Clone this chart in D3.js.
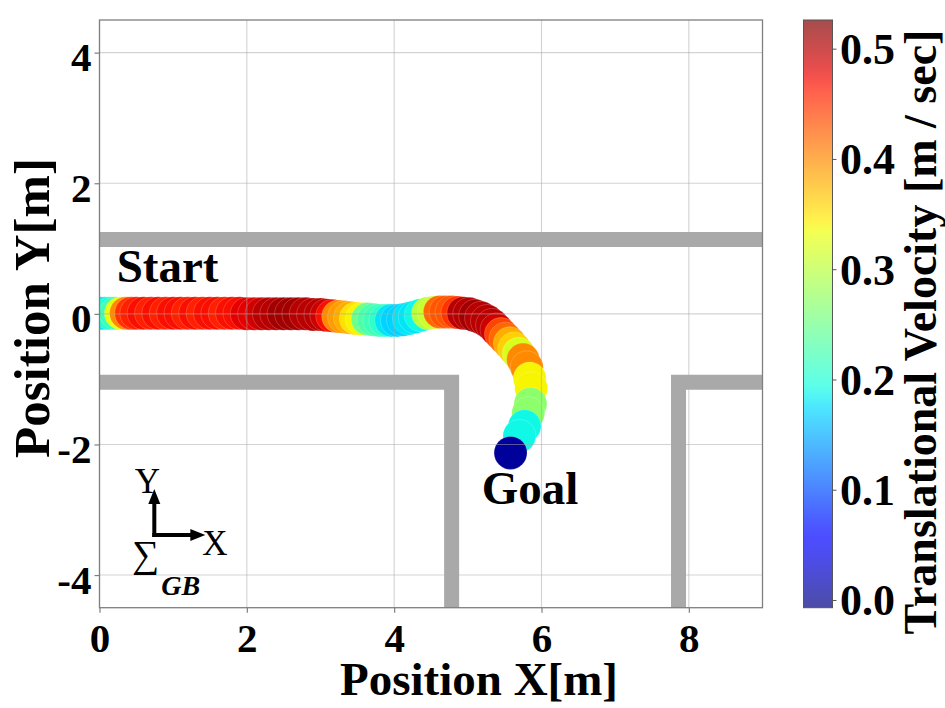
<!DOCTYPE html>
<html><head><meta charset="utf-8">
<script src="https://cdn.jsdelivr.net/npm/d3@7"></script>
<style>body{margin:0;background:#fff}svg{display:block}</style>
</head><body>
<svg id="c" width="945" height="708"></svg>
<script>
// ---------------- data ----------------
const posX = [0.00,0.07,0.14,0.22,0.29,0.36,0.43,0.50,0.60,0.70,0.80,0.90,1.00,1.10,1.20,1.30,1.40,1.50,1.60,1.70,1.80,1.90,2.00,
  2.10,2.20,2.30,2.40,2.50,2.60,2.70,2.80,2.90,3.00,3.08,3.16,3.24,3.32,3.40,3.48,3.56,3.64,3.72,3.80,
  3.88,3.96,4.04,4.12,4.20,4.28,4.36,4.46,4.54,4.62,4.70,4.78,4.86,4.94,5.02,5.10,5.18,5.26,5.33,5.39,
  5.45,5.51,5.57,5.63,5.69,5.75,5.80,5.84,5.86,5.85,5.82,5.77,5.70,5.58];
const posY = [0.01,0.01,0.01,0.01,0.01,0.01,0.01,0.01,0.01,0.01,0.01,0.01,0.01,0.01,0.01,0.01,0.01,0.01,0.01,0.01,0.01,0.01,0.00,
  0.00,0.00,0.00,0.00,0.00,0.00,0.00,0.00,-0.01,-0.01,-0.02,-0.03,-0.04,-0.05,-0.06,-0.07,-0.08,-0.08,-0.09,-0.10,
  -0.10,-0.10,-0.10,-0.09,-0.07,-0.05,-0.02,0.01,0.02,0.03,0.03,0.03,0.02,0.01,0.00,-0.03,-0.06,-0.11,-0.17,-0.24,
  -0.31,-0.38,-0.45,-0.53,-0.61,-0.70,-0.82,-0.99,-1.14,-1.38,-1.52,-1.72,-1.87,-2.13];
const speed = [0.16,0.18,0.20,0.22,0.33,0.40,0.45,0.46,0.47,0.46,0.47,0.46,0.47,0.47,0.46,0.47,0.46,0.47,0.47,0.46,0.47,0.47,0.48,
  0.48,0.49,0.50,0.50,0.51,0.51,0.51,0.50,0.50,0.50,0.49,0.47,0.40,0.39,0.38,0.35,0.34,0.25,0.23,0.22,
  0.21,0.18,0.17,0.17,0.18,0.18,0.19,0.30,0.31,0.42,0.43,0.43,0.45,0.50,0.50,0.51,0.50,0.50,0.50,0.49,
  0.44,0.42,0.38,0.36,0.32,0.40,0.40,0.34,0.34,0.27,0.27,0.19,0.19,0.005];

const xTicks = [0,2,4,6,8];
const yTicks = [-4,-2,0,2,4];
const cbTicks = [0.0,0.1,0.2,0.3,0.4,0.5];
const speedRange = [-0.007,0.526];

const wallTop = [[0,1.138],[9,1.138]];
const wallLeft = [[0,-1.046],[4.78,-1.046],[4.78,-4.5]];
const wallRight = [[7.86,-4.5],[7.86,-1.046],[9,-1.046]];

// ---------------- setup ----------------
const svg = d3.select("#c");
const FONT = "'Liberation Serif','Times New Roman',serif";
const x = d3.scaleLinear().domain([0,9]).range([99.5,762.5]);
const y = d3.scaleLinear().domain([-4.5,4.5]).range([607.7,20]);
const intFmt = d => String(d);   // plain hyphen minus as in the reference

// matplotlib jet
const jr = d3.scaleLinear().domain([0,0.35,0.66,0.89,1]).range([0,0,1,1,0.5]).clamp(true);
const jg = d3.scaleLinear().domain([0,0.125,0.375,0.64,0.91,1]).range([0,0,1,1,0,0]).clamp(true);
const jb = d3.scaleLinear().domain([0,0.11,0.34,0.65,1]).range([0.5,1,1,0,0]).clamp(true);
const jet = t => d3.rgb(255*jr(t),255*jg(t),255*jb(t)).formatHex();
const tOf = d3.scaleLinear().domain(speedRange).range([0,1]).clamp(true);
const color = v => jet(tOf(v));

const defs = svg.append("defs");
defs.append("clipPath").attr("id","plotclip").append("rect")
  .attr("x",x(0)).attr("y",y(4.5)).attr("width",x(9)-x(0)).attr("height",y(-4.5)-y(4.5));

// trajectory
const pts = posX.map((d,i)=>({x:d,y:posY[i],v:speed[i]}));
svg.append("g").attr("clip-path","url(#plotclip)")
  .selectAll("circle").data(pts).join("circle")
  .attr("cx",d=>x(d.x)).attr("cy",d=>y(d.y)).attr("r",16.5)
  .attr("fill",d=>color(d.v))
  .attr("stroke","#ffffff").attr("stroke-opacity",0.25).attr("stroke-width",0.8);

// grid (on top of markers)
const grid = svg.append("g").attr("stroke","#a8a8a8").attr("stroke-opacity",0.5).attr("stroke-width",1.1);
grid.selectAll(".gx").data(xTicks).join("line")
  .attr("x1",d=>x(d)).attr("x2",d=>x(d)).attr("y1",y(-4.5)).attr("y2",y(4.5));
grid.selectAll(".gy").data(yTicks).join("line")
  .attr("y1",d=>y(d)).attr("y2",d=>y(d)).attr("x1",x(0)).attr("x2",x(9));

// walls
const line = d3.line().x(d=>x(d[0])).y(d=>y(d[1]));
svg.append("g").selectAll("path").data([wallTop,wallLeft,wallRight]).join("path")
  .attr("d",line).attr("fill","none").attr("stroke","#a9a9a9")
  .attr("stroke-width",15).attr("stroke-linejoin","miter").attr("stroke-linecap","butt");

// frame
svg.append("rect").attr("x",x(0)).attr("y",y(4.5)).attr("width",x(9)-x(0)).attr("height",y(-4.5)-y(4.5))
  .attr("fill","none").attr("stroke","#7f7f7f").attr("stroke-width",1.3);

// axes
const gx = svg.append("g").attr("transform",`translate(0,${y(-4.5)})`)
  .call(d3.axisBottom(x).tickValues(xTicks).tickSize(5).tickFormat(intFmt));
const gy = svg.append("g").attr("transform",`translate(${x(0)},0)`)
  .call(d3.axisLeft(y).tickValues(yTicks).tickSize(5).tickFormat(intFmt));
[gx,gy].forEach(g=>{
  g.select(".domain").remove();
  g.selectAll(".tick line").attr("stroke","#7f7f7f").attr("stroke-width",1.2);
  g.selectAll("text").attr("fill","#000").style("font-family",FONT).style("font-weight","bold").style("font-size","41px");
});
gx.selectAll("text").attr("y",44).attr("dy",0);
gy.selectAll("text").attr("x",-8).attr("dy","0.44em");

// axis titles
svg.append("text").attr("x",479).attr("y",695).attr("text-anchor","middle")
  .style("font-family",FONT).style("font-weight","bold").style("font-size","47px").text("Position X[m]");
svg.append("text").attr("transform","translate(49,308) rotate(-90)").attr("text-anchor","middle")
  .style("font-family",FONT).style("font-weight","bold").style("font-size","51px").text("Position Y[m]");

// annotations
svg.append("text").attr("x",x(0.233)).attr("y",y(0.488))
  .style("font-family",FONT).style("font-weight","bold").style("font-size","47px").text("Start");
svg.append("text").attr("x",x(5.188)).attr("y",y(-2.912))
  .style("font-family",FONT).style("font-weight","bold").style("font-size","47px").text("Goal");

// coordinate frame symbol
const ox = x(0.744), oy = y(-3.387);
const fr = svg.append("g");
fr.append("line").attr("x1",ox).attr("y1",oy+2).attr("x2",ox).attr("y2",oy-34).attr("stroke","#000").attr("stroke-width",4);
fr.append("line").attr("x1",ox-2).attr("y1",oy).attr("x2",ox+38).attr("y2",oy).attr("stroke","#000").attr("stroke-width",4);
fr.append("path").attr("d",`M${ox},${oy-46}L${ox-6},${oy-31}L${ox+6},${oy-31}Z`).attr("fill","#000");
fr.append("path").attr("d",`M${ox+51},${oy}L${ox+36},${oy-6}L${ox+36},${oy+6}Z`).attr("fill","#000");
fr.append("text").attr("x",ox-7).attr("y",oy-42).attr("text-anchor","middle")
  .style("font-family",FONT).style("font-size","35px").text("Y");
fr.append("text").attr("x",ox+48).attr("y",oy+20)
  .style("font-family",FONT).style("font-size","35px").text("X");
fr.append("text").attr("x",ox-22).attr("y",oy+32)
  .style("font-family",FONT).style("font-size","38px").text("\u2211");
fr.append("text").attr("x",ox+7).attr("y",oy+60)
  .style("font-family",FONT).style("font-weight","bold").style("font-style","italic").style("font-size","28px").text("GB");

// colorbar
const cb = d3.scaleLinear().domain(speedRange).range([607.7,20]);
const grad = defs.append("linearGradient").attr("id","jetgrad")
  .attr("x1",0).attr("y1",1).attr("x2",0).attr("y2",0);
grad.selectAll("stop").data(d3.range(0,1.0001,0.02)).join("stop")
  .attr("offset",d=>d).attr("stop-color",d=>jet(d)).attr("stop-opacity",0.7);
svg.append("rect").attr("x",803.5).attr("y",cb(speedRange[1])).attr("width",29)
  .attr("height",cb(speedRange[0])-cb(speedRange[1]))
  .attr("fill","url(#jetgrad)").attr("stroke","#555").attr("stroke-width",1);
const gc = svg.append("g").attr("transform","translate(832.5,0)")
  .call(d3.axisRight(cb).tickValues(cbTicks).tickSize(4).tickFormat(d3.format(".1f")));
gc.select(".domain").remove();
gc.selectAll(".tick line").attr("stroke","#555");
gc.selectAll("text").attr("x",7.5).attr("dy","0.34em").attr("fill","#000")
  .style("font-family",FONT).style("font-weight","bold").style("font-size","44px");
svg.append("text").attr("transform","translate(936,332) rotate(-90)").attr("text-anchor","middle")
  .style("font-family",FONT).style("font-weight","bold").style("font-size","46px")
  .text("Translational Velocity [m / sec]");
</script>
</body></html>
